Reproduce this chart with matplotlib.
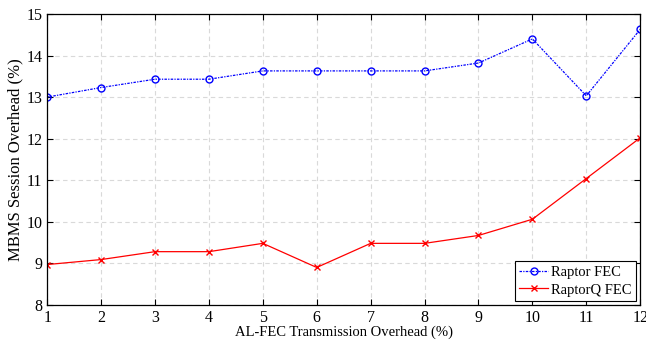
import matplotlib.pyplot as plt

# data
overhead = [1, 2, 3, 4, 5, 6, 7, 8, 9, 10, 11, 12]
raptor_fec = [13.0, 13.23, 13.43, 13.43, 13.63, 13.63, 13.63, 13.63, 13.82, 14.4, 13.03, 14.63]
raptorq_fec = [8.97, 9.09, 9.28, 9.28, 9.48, 8.9, 9.48, 9.48, 9.67, 10.06, 11.04, 12.02]

plt.rcParams['font.family'] = ['Liberation Serif', 'DejaVu Serif']
plt.rcParams['font.size'] = 11

fig = plt.figure(figsize=(6.46, 3.41), dpi=100)
ax = fig.add_axes([0.073, 0.106, 0.918, 0.853])

ax.plot(overhead, raptor_fec, color='blue', linestyle=(0, (2, 1, 1, 1)), linewidth=0.9,
        marker='o', markersize=5, markerfacecolor='none', markeredgewidth=1.0,
        label='Raptor FEC')
ax.plot(overhead, raptorq_fec, color='red', linestyle='-', linewidth=0.9,
        marker='x', markersize=4, markeredgewidth=1.0, label='RaptorQ FEC')

ax.set_xlim(1, 12)
ax.set_ylim(8, 15)
ax.set_xticks(overhead)
ax.set_yticks(range(8, 16))

# grid and box like the reference
ax.grid(True, color='#d9d9d9', linestyle=(0, (4, 3)), linewidth=0.8)
ax.tick_params(direction='in', top=True, right=True, length=4, width=0.8, labelsize=11.5)
for s in ax.spines.values():
    s.set_linewidth(0.9)

ax.set_xlabel('AL-FEC Transmission Overhead (%)', fontsize=10.5, labelpad=0)
ax.set_ylabel('MBMS Session Overhead (%)', fontsize=12, labelpad=2)

leg = ax.legend(loc='lower right', fancybox=False, edgecolor='black', framealpha=1,
                fontsize=10.5, handlelength=2.0, borderaxespad=0.27,
                borderpad=0.3, labelspacing=0.3, handletextpad=0.2)
leg.get_frame().set_linewidth(0.8)

plt.savefig('out.png', dpi=100)
